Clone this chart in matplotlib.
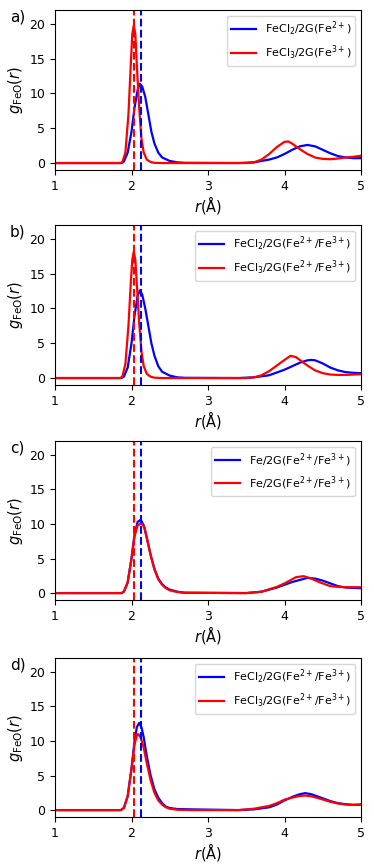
import numpy as np
import matplotlib.pyplot as plt

# panel a
r_a_blue = [1.0, 1.87, 1.90, 1.95, 2.00, 2.04, 2.08, 2.11, 2.14, 2.18, 2.22, 2.26, 2.30, 2.35, 2.40, 2.50, 2.60, 2.70, 3.40, 3.60, 3.80, 3.90, 4.00, 4.10, 4.20, 4.30, 4.40, 4.50, 4.60, 4.70, 4.80, 4.90, 5.00]
g_a_blue = [0.0, 0.0, 0.2, 1.5, 4.5, 8.0, 10.5, 11.4, 11.0, 9.5, 7.0, 4.5, 2.8, 1.5, 0.8, 0.3, 0.1, 0.03, 0.0, 0.1, 0.5, 0.8, 1.3, 1.9, 2.4, 2.6, 2.4, 1.9, 1.4, 1.0, 0.8, 0.7, 0.7]
r_a_red = [1.0, 1.85, 1.88, 1.92, 1.96, 1.99, 2.01, 2.03, 2.05, 2.07, 2.10, 2.13, 2.16, 2.20, 2.25, 2.30, 2.40, 3.50, 3.60, 3.70, 3.80, 3.90, 4.00, 4.05, 4.10, 4.20, 4.30, 4.40, 4.50, 4.60, 4.70, 4.80, 4.90, 5.00]
g_a_red = [0.0, 0.0, 0.1, 1.5, 7.0, 14.0, 18.5, 19.8, 18.5, 14.0, 8.0, 3.5, 1.5, 0.5, 0.15, 0.03, 0.0, 0.0, 0.1, 0.5, 1.3, 2.3, 3.05, 3.1, 2.8, 2.0, 1.3, 0.8, 0.6, 0.55, 0.65, 0.8, 0.9, 1.05]

# panel b
r_b_blue = [1.0, 1.87, 1.90, 1.95, 2.00, 2.04, 2.08, 2.11, 2.14, 2.18, 2.22, 2.26, 2.30, 2.35, 2.40, 2.50, 2.60, 2.70, 3.40, 3.60, 3.80, 4.00, 4.10, 4.20, 4.30, 4.35, 4.40, 4.50, 4.60, 4.70, 4.80, 4.90, 5.00]
g_b_blue = [0.0, 0.0, 0.2, 1.5, 5.0, 9.0, 11.8, 12.6, 12.0, 10.0, 7.5, 5.0, 3.2, 1.7, 0.9, 0.35, 0.1, 0.03, 0.0, 0.1, 0.4, 1.2, 1.7, 2.2, 2.55, 2.6, 2.55, 2.1, 1.5, 1.1, 0.85, 0.75, 0.7]
r_b_red = [1.0, 1.85, 1.88, 1.92, 1.96, 1.99, 2.01, 2.03, 2.05, 2.07, 2.10, 2.13, 2.16, 2.20, 2.25, 2.30, 2.40, 3.50, 3.60, 3.70, 3.80, 3.90, 4.00, 4.08, 4.15, 4.20, 4.30, 4.40, 4.50, 4.60, 4.70, 4.80, 4.90, 5.00]
g_b_red = [0.0, 0.0, 0.2, 2.0, 7.5, 13.5, 17.0, 18.2, 17.0, 13.5, 8.0, 3.8, 1.7, 0.6, 0.2, 0.05, 0.0, 0.0, 0.1, 0.4, 1.0, 1.8, 2.6, 3.2, 3.0, 2.6, 1.8, 1.1, 0.7, 0.5, 0.45, 0.45, 0.5, 0.55]

# panel c
r_c_blue = [1.0, 1.87, 1.90, 1.95, 2.00, 2.04, 2.08, 2.12, 2.16, 2.20, 2.25, 2.30, 2.35, 2.40, 2.45, 2.50, 2.60, 2.70, 3.50, 3.70, 3.90, 4.00, 4.10, 4.20, 4.30, 4.40, 4.50, 4.60, 4.70, 4.80, 4.90, 5.00]
g_c_blue = [0.0, 0.0, 0.2, 1.5, 5.0, 8.5, 10.3, 10.6, 9.8, 8.0, 5.5, 3.5, 2.1, 1.3, 0.8, 0.5, 0.2, 0.05, 0.0, 0.2, 0.8, 1.2, 1.6, 1.9, 2.2, 2.1, 1.8, 1.4, 1.0, 0.8, 0.75, 0.7]
r_c_red = [1.0, 1.87, 1.90, 1.95, 2.00, 2.04, 2.08, 2.13, 2.17, 2.20, 2.25, 2.30, 2.35, 2.40, 2.45, 2.50, 2.60, 2.70, 3.50, 3.70, 3.90, 4.00, 4.10, 4.15, 4.25, 4.35, 4.45, 4.55, 4.60, 4.70, 4.80, 4.90, 5.00]
g_c_red = [0.0, 0.0, 0.2, 1.6, 5.0, 8.2, 9.8, 10.1, 9.5, 8.0, 5.5, 3.4, 2.0, 1.2, 0.7, 0.4, 0.15, 0.05, 0.0, 0.2, 0.9, 1.4, 2.0, 2.3, 2.45, 2.1, 1.6, 1.2, 1.0, 0.9, 0.85, 0.85, 0.85]

# panel d
r_d_blue = [1.0, 1.86, 1.90, 1.95, 2.00, 2.04, 2.07, 2.10, 2.13, 2.16, 2.20, 2.25, 2.30, 2.35, 2.40, 2.45, 2.50, 2.60, 2.80, 3.40, 3.60, 3.80, 3.90, 4.00, 4.10, 4.20, 4.27, 4.35, 4.45, 4.60, 4.70, 4.80, 4.90, 5.00]
g_d_blue = [0.0, 0.0, 0.3, 2.0, 6.0, 10.0, 12.0, 12.6, 12.0, 10.5, 7.8, 5.0, 3.0, 1.8, 1.0, 0.5, 0.3, 0.15, 0.1, 0.0, 0.1, 0.4, 0.8, 1.4, 1.9, 2.3, 2.45, 2.3, 1.9, 1.3, 1.0, 0.85, 0.75, 0.8]
r_d_red = [1.0, 1.86, 1.90, 1.95, 2.00, 2.04, 2.07, 2.09, 2.12, 2.16, 2.20, 2.25, 2.30, 2.35, 2.40, 2.45, 2.50, 2.60, 2.80, 3.40, 3.60, 3.80, 3.90, 4.00, 4.10, 4.20, 4.27, 4.35, 4.45, 4.60, 4.70, 4.80, 4.90, 5.00]
g_d_red = [0.0, 0.0, 0.3, 2.0, 6.0, 9.5, 10.8, 11.0, 10.5, 9.0, 6.8, 4.3, 2.5, 1.4, 0.8, 0.4, 0.2, 0.05, 0.0, 0.0, 0.2, 0.6, 1.0, 1.5, 1.8, 2.05, 2.1, 2.0, 1.7, 1.2, 0.95, 0.8, 0.75, 0.8]

panel_tags = ['a)', 'b)', 'c)', 'd)']
blue_labels = [r'FeCl$_2$/2G(Fe$^{2+}$)', r'FeCl$_2$/2G(Fe$^{2+}$/Fe$^{3+}$)',
               r'Fe/2G(Fe$^{2+}$/Fe$^{3+}$)', r'FeCl$_2$/2G(Fe$^{2+}$/Fe$^{3+}$)']
red_labels = [r'FeCl$_3$/2G(Fe$^{3+}$)', r'FeCl$_3$/2G(Fe$^{2+}$/Fe$^{3+}$)',
              r'Fe/2G(Fe$^{2+}$/Fe$^{3+}$)', r'FeCl$_3$/2G(Fe$^{2+}$/Fe$^{3+}$)']
red_line = 2.03
blue_line = 2.12

curves = [
    (r_a_blue, g_a_blue, r_a_red, g_a_red),
    (r_b_blue, g_b_blue, r_b_red, g_b_red),
    (r_c_blue, g_c_blue, r_c_red, g_c_red),
    (r_d_blue, g_d_blue, r_d_red, g_d_red),
]

fig = plt.figure(figsize=(3.74, 8.66), dpi=100)
# axes boxes in pixels from top: (top, bottom)
boxes = [(10, 170), (225, 385), (441, 600), (658, 817)]
W, H = 374.0, 866.0

for i, (rb, gb, rr, gr) in enumerate(curves):
    top, bot = boxes[i]
    ax = fig.add_axes([55 / W, 1 - bot / H, (361 - 55) / W, (bot - top) / H])
    ax.plot(rb, gb, color='blue', lw=1.6, label=blue_labels[i])
    ax.plot(rr, gr, color='red', lw=1.6, label=red_labels[i])
    ax.axvline(red_line, color='red', ls='--', lw=1.5)
    ax.axvline(blue_line, color='blue', ls='--', lw=1.5)
    ax.set_xlim(1, 5)
    ax.set_ylim(-1, 22)
    ax.set_xticks([1, 2, 3, 4, 5])
    ax.set_yticks([0, 5, 10, 15, 20])
    ax.tick_params(labelsize=9)
    ax.set_xlabel(r'$r$(Å)', fontsize=10.5, labelpad=1)
    ax.set_ylabel(r'$g_{\rm FeO}(r)$', fontsize=10.5, labelpad=3)
    ax.legend(loc='upper right', fontsize=8, handlelength=2.2)
    fig.text(10 / W, 1 - (top + 7) / H, panel_tags[i], fontsize=11, va='center', ha='left')

fig.savefig('out.png', dpi=100)
